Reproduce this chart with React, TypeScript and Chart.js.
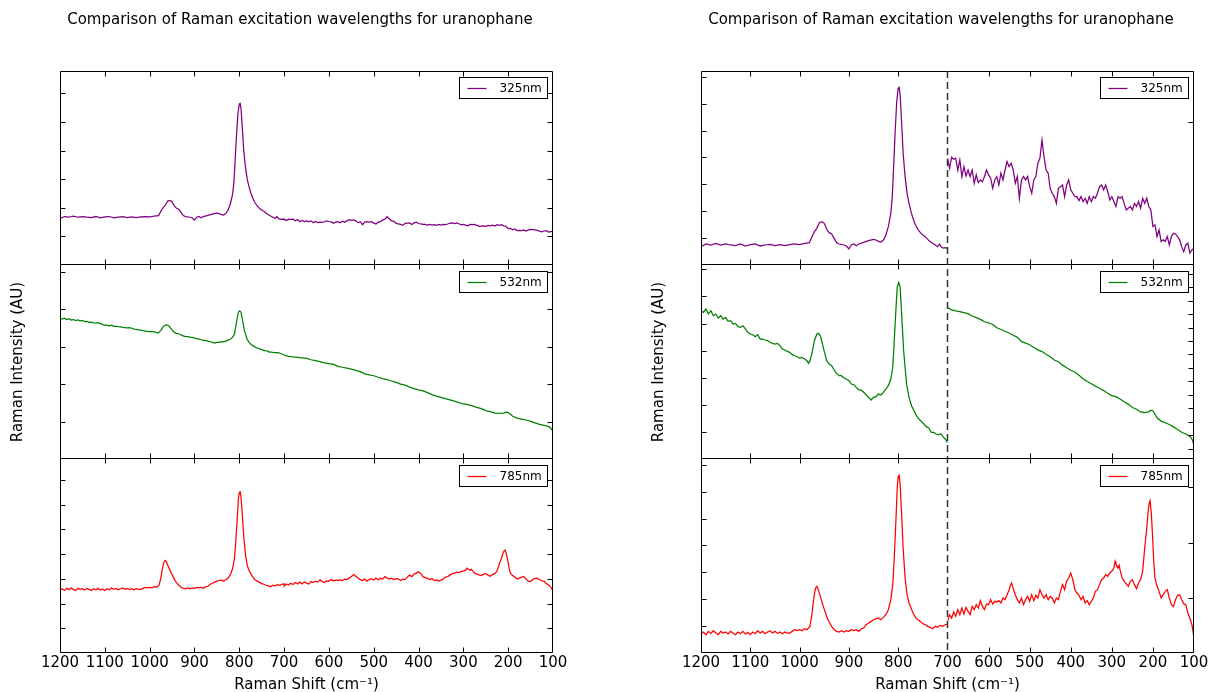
import React, { useEffect, useRef } from 'react';
import { Chart, registerables } from 'chart.js';

Chart.register(...registerables);

const FONT = 'DejaVu Sans';
const TITLE = 'Comparison of Raman excitation wavelengths for uranophane';
const X_TITLE = 'Raman Shift (cm⁻¹)';
const Y_TITLE = 'Raman Intensity (AU)';

const laserLabels = ['325nm', '532nm', '785nm'];
const laserColors = ['#800080', '#008000', '#ff0000'];
const shiftTicks = [1200, 1100, 1000, 900, 800, 700, 600, 500, 400, 300, 200, 100];
const splitShift = 700;

// ---------- 325 nm ----------
const shift325High = [1200,1190,1180,1170,1160,1150,1140,1130,1120,1110,1100,1090,1080,1070,1060,1050,1040,1030,1020,1010,1000,990,980,975,970,965,960,955,950,945,940,935,930,925,920,910,905,900,895,890,885,880,870,860,850,845,840,835,830,825,820,815,812,809,806,803,800,798,796,793,790,786,782,778,774,770,765,760,755,750,745,740,735,730,725,720,716,712,708,704,700];
const int325High = [1628,1695,1670,1712,1670,1695,1670,1653,1695,1645,1679,1695,1645,1670,1687,1653,1679,1653,1679,1695,1679,1712,1729,1880,2007,2091,2234,2259,2217,2066,1981,1948,1838,1729,1695,1670,1645,1569,1670,1695,1653,1695,1737,1780,1813,1796,1763,1746,1796,1923,2133,2469,2890,3731,4573,5288,5624,5650,5456,4741,3984,3395,2974,2722,2511,2343,2175,2066,1981,1923,1880,1813,1754,1712,1670,1628,1695,1611,1594,1603,1586];
const shift325Low = [700,695,690,685,680,675,670,665,660,655,650,645,640,635,630,625,620,615,610,605,600,595,590,585,580,575,570,565,560,555,550,545,540,535,530,525,520,515,510,505,500,495,490,485,480,475,470,465,460,455,450,445,440,435,430,425,420,415,410,405,400,395,390,385,380,375,370,365,360,355,350,345,340,335,330,325,320,315,310,305,300,295,290,285,280,275,270,265,260,255,250,245,240,235,230,225,220,215,210,205,200,195,190,185,180,175,170,165,160,155,150,145,140,135,130,125,120,115,110,105,100];
const int325Low = [1600,1552,1604,1595,1600,1544,1592,1513,1560,1516,
  1544,1513,1544,1481,1521,1484,1497,1489,1513,1544,
  1521,1505,1457,1497,1513,1473,1529,1497,1544,1584,
  1560,1576,1544,1481,1513,1410,1497,1513,1497,1513,
  1465,1434,1497,1513,1576,1600,1686,1607,1544,1529,
  1457,1434,1418,1386,1457,1465,1473,1418,1473,1497,
  1450,1434,1418,1418,1399,1418,1394,1410,1386,1418,
  1394,1418,1410,1434,1465,1473,1450,1473,1442,1402,
  1418,1394,1371,1418,1410,1418,1386,1355,1363,1371,
  1355,1386,1371,1394,1363,1410,1386,1410,1371,1355,
  1276,1284,1229,1260,1205,1213,1205,1229,1189,1229,
  1244,1241,1229,1213,1181,1157,1189,1197,1150,1165,
  1173];

// ---------- 532 nm ----------
const shift532High = [1200,1195,1190,1185,1180,1175,1170,1165,1160,1155,1150,1145,1140,1135,1130,1125,1120,1115,1110,1105,1100,1095,1090,1085,1080,1075,1070,1065,1060,1055,1050,1045,1040,1035,1030,1025,1020,1015,1010,1005,1000,995,990,985,982,979,975,970,965,962,958,955,950,945,940,935,930,925,920,915,910,905,900,895,890,885,880,875,870,865,860,855,850,845,840,835,830,825,820,815,811,808,804,802,799,796,793,789,783,778,773,768,763,758,753,748,743,738,733,728,723,718,713,708,703,700];
const int532High = [3754,3741,3766,3729,3754,3717,3729,3700,3717,3692,3705,3675,3680,3655,3660,3636,3631,3643,3619,3594,3582,3577,3562,3577,3545,3545,3538,3533,3521,3513,3508,3513,3496,3472,3464,3454,3447,3430,3422,3415,3405,3410,3398,3386,3366,3386,3440,3533,3582,3587,3570,3528,3454,3386,3361,3349,3317,3292,3275,3275,3258,3251,3238,3214,3209,3189,3170,3170,3153,3135,3116,3096,3116,3121,3140,3133,3153,3177,3202,3251,3337,3533,3803,3925,3962,3925,3729,3459,3214,3116,3054,3018,2981,2956,2939,2920,2900,2890,2858,2858,2846,2841,2846,2821,2802,2780];
const shift532Low = [700,690,680,670,660,650,640,630,620,610,600,590,580,570,560,550,540,530,520,510,500,490,480,470,460,450,440,430,420,410,400,390,380,370,360,350,340,330,320,310,300,290,280,270,260,250,240,230,220,210,205,200,195,190,180,170,160,150,140,130,120,110,105,100];
const int532Low = [2780,2745,2730,2720,2704,2689,2654,2629,2604,2568,2553,2528,2478,2453,2427,2402,2367,2337,2276,2251,2226,2186,2150,2125,2085,2050,2000,1974,1924,1884,1848,1823,1773,1723,1682,1647,1612,1581,1546,1506,1471,1456,1420,1380,1345,1294,1269,1229,1219,1229,1254,1244,1194,1143,1093,1068,1043,1007,967,927,902,866,826,740];

// ---------- 785 nm ----------
const shift785High = [1200,1195,1190,1185,1180,1175,1170,1165,1160,1155,1150,1145,1140,1135,1130,1125,1120,1115,1110,1105,1100,1095,1090,1085,1080,1075,1070,1065,1060,1055,1050,1045,1040,1035,1030,1025,1020,1015,1010,1005,1000,995,990,985,982,979,975,972,969,967,965,962,959,955,952,948,944,940,935,930,925,920,915,910,905,900,895,890,885,880,875,870,865,860,855,850,845,840,835,830,825,820,815,811,808,805,802,800,798,796,793,790,786,782,778,774,770,765,760,755,750,745,740,735,730,725,720,715,710,705,700];
const int785High = [2551,2601,2534,2617,2559,2634,2576,2534,2617,2576,2601,2551,2617,2576,2534,2601,2559,2617,2551,2592,2534,2601,2559,2634,2576,2617,2559,2601,2634,2576,2617,2567,2601,2559,2601,2576,2576,2617,2659,2634,2659,2634,2684,2659,2701,2743,3035,3370,3620,3720,3746,3662,3537,3370,3244,3102,2952,2851,2743,2659,2617,2601,2634,2601,2634,2617,2659,2634,2659,2617,2684,2701,2784,2826,2868,2910,2935,2952,2910,2968,3035,3160,3411,3787,4456,5292,6211,6503,6528,6294,5542,4707,3954,3537,3328,3202,3077,2968,2910,2868,2810,2784,2743,2718,2684,2743,2718,2768,2743,2784,2801];
const shift785Low = [700,695,690,685,680,675,670,665,660,655,650,645,640,635,630,625,620,615,610,605,600,595,590,585,580,575,570,565,560,555,550,547,544,540,535,530,525,520,515,510,505,500,495,490,485,480,475,470,465,460,455,450,445,440,435,430,425,420,415,410,405,400,395,390,385,380,375,370,365,360,355,350,345,340,335,330,325,320,315,310,305,300,295,292,290,285,282,280,275,270,265,260,255,250,245,240,235,230,225,220,215,212,209,207,204,201,198,195,190,185,180,175,170,165,160,155,150,145,140,135,130,125,120,115,110,105,100];
const int785Low = [2711,2791,2751,2823,2771,2851,2791,2871,2799,2879,
  2831,2791,2891,2851,2911,2871,2960,2891,2851,2920,
  2911,2972,2920,2952,2944,2960,2932,2992,2972,3032,
  3092,3145,3173,
  3104,3032,2972,2932,2990,2911,2972,3012,2952,3032,
  2960,3024,2992,3092,3032,2992,3032,2972,3012,2992,
  2932,2992,2972,3072,3153,3092,3193,3233,3293,3213,
  3092,3052,3024,2972,3012,2932,2960,2911,2952,2992,
  3072,3092,3153,3213,3233,3273,3253,3293,3313,3353,
  3434,3402,3353,3385,
  3333,3233,3193,3161,3133,3193,3213,3153,3104,3173,3213,3313,3594,
  3835,4016,4137,4165,4016,3755,3434,3233,
  3133,3072,2992,3032,3072,3092,2992,2911,2891,2972,3024,3032,2972,2920,2911,2811,2751,2670,2510];

const highShift = [shift325High, shift532High, shift785High];
const highInt = [int325High, int532High, int785High];
const lowShift = [shift325Low, shift532Low, shift785Low];
const lowInt = [int325Low, int532Low, int785Low];

// y-axis ranges (intensity units) and tick placement [from, step]
const fullMax = [6783, 5187, 7854];
const fullTick = [[0, 1000], [0, 1000], [0, 1000]];
const highRange = [[1165, 6062], [2662, 4090], [2075, 6938]];
const highTick = [[1165, 679], [2859, 200], [2075, 674]];
const lowRange = [[1094, 2013], [530, 3411], [2329, 4667]];
const lowTick = [[1094, 676], [882, 200], [2329, 665]];

const points = (xs: number[], ys: number[]) => xs.map((x, k) => ({ x, y: ys[k] }));

function tickBuilder(from: number, step: number) {
  return (axis: any) => {
    const out: any[] = [];
    const k0 = Math.ceil((axis.min - from) / step - 1e-9);
    for (let k = k0; from + k * step <= axis.max + 1e-9; k++) out.push({ value: from + k * step });
    axis.ticks = out;
  };
}

function yAxis(pos: string, min: number, max: number, tick: number[], width: number, title: string | null) {
  return {
    type: 'linear', axis: 'y', position: pos, stack: 'rows', stackWeight: 1,
    min, max, bounds: 'data',
    afterBuildTicks: tickBuilder(tick[0], tick[1]),
    afterFit: (s: any) => { s.width = width; },
    ticks: { display: false },
    grid: { display: false, drawTicks: false },
    border: { display: false },
    title: title
      ? { display: true, text: title, color: '#000', font: { family: FONT, size: 15 }, padding: { top: -38, bottom: 0 } }
      : { display: false },
  };
}

function xAxis(lo: number, hi: number, exclude: number[], height: number, withTitle: boolean, stack?: string) {
  const o: any = {
    type: 'linear', axis: 'x', position: 'bottom', min: lo, max: hi, reverse: true, bounds: 'data',
    afterBuildTicks: (s: any) => {
      s.ticks = shiftTicks.filter((v) => v >= lo && v <= hi && !exclude.includes(v)).map((v) => ({ value: v }));
    },
    afterFit: (s: any) => { s.height = height; },
    ticks: {
      color: '#000', font: { family: FONT, size: 15 }, padding: 1, autoSkip: false,
      maxRotation: 0, minRotation: 0, callback: (v: any) => String(v),
    },
    grid: { display: false, drawTicks: false },
    border: { display: false },
    title: withTitle
      ? { display: true, text: X_TITLE, color: '#000', font: { family: FONT, size: 15 }, padding: { top: 0, bottom: -2 } }
      : { display: false },
  };
  if (stack) { o.stack = stack; o.stackWeight = 1; }
  return o;
}

type Row = { left: string; right: string; label: string; color: string };

function framePlugin(rows: Row[], xIds: string[], split: number | null) {
  return {
    id: 'frame',
    afterDraw(chart: any) {
      const { ctx, chartArea: a, scales } = chart;
      const TICK = 5;
      const L = Math.round(a.left) + 0.5;
      const R = Math.round(a.right) - 0.5;
      ctx.save();
      ctx.lineWidth = 1;
      ctx.strokeStyle = '#000';
      rows.forEach((row, i) => {
        const ys = scales[row.left];
        const top = i === 0 ? Math.round(ys.top) + 0.5 : Math.round(ys.top) - 0.5;
        const bot = Math.round(ys.bottom) - 0.5;
        ctx.beginPath();
        ctx.moveTo(L, top); ctx.lineTo(R, top);
        ctx.moveTo(L, bot); ctx.lineTo(R, bot);
        ctx.moveTo(L, top); ctx.lineTo(L, bot);
        ctx.moveTo(R, top); ctx.lineTo(R, bot);
        const yt = (s: any, x0: number, dir: number) => {
          s.ticks.forEach((t: any) => {
            const p = s.getPixelForValue(t.value);
            if (p < s.top + 2 || p > s.bottom - 2) return;
            const yy = Math.round(p) + 0.5;
            ctx.moveTo(x0, yy); ctx.lineTo(x0 + dir * TICK, yy);
          });
        };
        yt(ys, L, 1);
        yt(scales[row.right], R, -1);
        xIds.forEach((id) => {
          const xs = scales[id];
          xs.ticks.forEach((t: any) => {
            if (split !== null && t.value === split) return;
            const p = xs.getPixelForValue(t.value);
            if (p < a.left + 2 || p > a.right - 2) return;
            const xx = Math.round(p) + 0.5;
            ctx.moveTo(xx, top); ctx.lineTo(xx, top + TICK);
            ctx.moveTo(xx, bot); ctx.lineTo(xx, bot - TICK);
          });
        });
        ctx.stroke();
      });
      if (split !== null) {
        const px = scales[xIds[0]].getPixelForValue(split);
        ctx.save();
        ctx.setLineDash([7, 4]);
        ctx.lineWidth = 1.5;
        ctx.strokeStyle = '#333';
        ctx.beginPath();
        ctx.moveTo(px, a.top);
        ctx.lineTo(px, a.bottom);
        ctx.stroke();
        ctx.restore();
      }
      rows.forEach((row) => {
        const ys = scales[row.left];
        const bw = 88, bh = 21;
        const bx = Math.round(a.right - 6 - bw) + 0.5;
        const by = Math.round(ys.top + 6) + 0.5;
        ctx.fillStyle = '#fff';
        ctx.fillRect(bx, by, bw, bh);
        ctx.strokeStyle = '#000';
        ctx.lineWidth = 1;
        ctx.strokeRect(bx, by, bw, bh);
        ctx.strokeStyle = row.color;
        ctx.lineWidth = 1.25;
        ctx.beginPath();
        ctx.moveTo(bx + 8, by + 11);
        ctx.lineTo(bx + 27, by + 11);
        ctx.stroke();
        ctx.fillStyle = '#000';
        ctx.font = `12px "${FONT}"`;
        ctx.textBaseline = 'middle';
        ctx.textAlign = 'left';
        ctx.fillText(row.label, bx + 40, by + 11.5);
      });
      ctx.restore();
    },
  };
}

const lineStyle = (i: number) => ({
  borderColor: laserColors[i], backgroundColor: laserColors[i], borderWidth: 1.25,
  pointRadius: 0, pointHoverRadius: 0, tension: 0, fill: false,
});

const baseOptions = (scales: any) => ({
  responsive: false, animation: false, devicePixelRatio: 1, events: [],
  layout: { padding: { left: 47, right: 47, top: 0, bottom: 0 } },
  plugins: {
    legend: { display: false }, tooltip: { enabled: false },
    title: {
      display: true, text: TITLE, color: '#000',
      font: { family: FONT, size: 15, weight: 'normal' }, padding: { top: 11, bottom: 42 },
    },
  },
  scales,
});

function fullConfig(): any {
  const ids = ['y325', 'y532', 'y785'];
  const datasets = laserLabels.map((label, i) => ({
    label, ...lineStyle(i),
    data: points([...highShift[i], ...lowShift[i]], [...highInt[i], ...lowInt[i]]),
    xAxisID: 'x', yAxisID: ids[i],
  }));
  const scales: any = { x: xAxis(100, 1200, [], 39, true) };
  [2, 1, 0].forEach((i) => {
    scales[ids[i]] = yAxis('left', 0, fullMax[i], fullTick[i], 13, i === 1 ? Y_TITLE : null);
  });
  const rows = laserLabels.map((label, i) => ({ left: ids[i], right: ids[i], label, color: laserColors[i] }));
  return { type: 'line', data: { datasets }, options: baseOptions(scales), plugins: [framePlugin(rows, ['x'], null)] };
}

function splitConfig(): any {
  const lIds = ['yl325', 'yl532', 'yl785'];
  const rIds = ['yr325', 'yr532', 'yr785'];
  const datasets: any[] = [];
  laserLabels.forEach((label, i) => {
    datasets.push({ label, ...lineStyle(i), data: points(highShift[i], highInt[i]), xAxisID: 'xL', yAxisID: lIds[i] });
    datasets.push({ label, ...lineStyle(i), data: points(lowShift[i], lowInt[i]), xAxisID: 'xR', yAxisID: rIds[i] });
  });
  const scales: any = {
    xL: xAxis(splitShift, 1200, [], 20, false, 'xs'),
    xR: xAxis(100, splitShift, [splitShift], 20, false, 'xs'),
    xT: {
      type: 'linear', axis: 'x', position: 'bottom', min: 0, max: 1,
      afterFit: (s: any) => { s.height = 19; },
      ticks: { display: false }, grid: { display: false, drawTicks: false }, border: { display: false },
      title: { display: true, text: X_TITLE, color: '#000', font: { family: FONT, size: 15 }, padding: { top: 0, bottom: -2 } },
    },
  };
  [2, 1, 0].forEach((i) => {
    scales[lIds[i]] = yAxis('left', highRange[i][0], highRange[i][1], highTick[i], 13, i === 1 ? Y_TITLE : null);
  });
  [0, 1, 2].forEach((i) => {
    scales[rIds[i]] = yAxis('right', lowRange[i][0], lowRange[i][1], lowTick[i], 0, null);
  });
  const rows = laserLabels.map((label, i) => ({ left: lIds[i], right: rIds[i], label, color: laserColors[i] }));
  return { type: 'line', data: { datasets }, options: baseOptions(scales), plugins: [framePlugin(rows, ['xL', 'xR'], splitShift)] };
}

function Panel({ kind, left }: { kind: 'full' | 'split'; left: number }) {
  const ref = useRef<HTMLCanvasElement>(null);
  useEffect(() => {
    if (!ref.current) return;
    const chart = new Chart(ref.current, kind === 'full' ? fullConfig() : splitConfig());
    return () => chart.destroy();
  }, [kind]);
  return (
    <canvas
      ref={ref}
      width={600}
      height={692}
      style={{ position: 'absolute', left, top: 0, width: 600, height: 692 }}
    />
  );
}

export default function App() {
  return (
    <div style={{ position: 'fixed', left: 0, top: 0, width: 1209, height: 692, overflow: 'hidden', background: '#fff' }}>
      <Panel kind="full" left={0} />
      <Panel kind="split" left={641} />
    </div>
  );
}
